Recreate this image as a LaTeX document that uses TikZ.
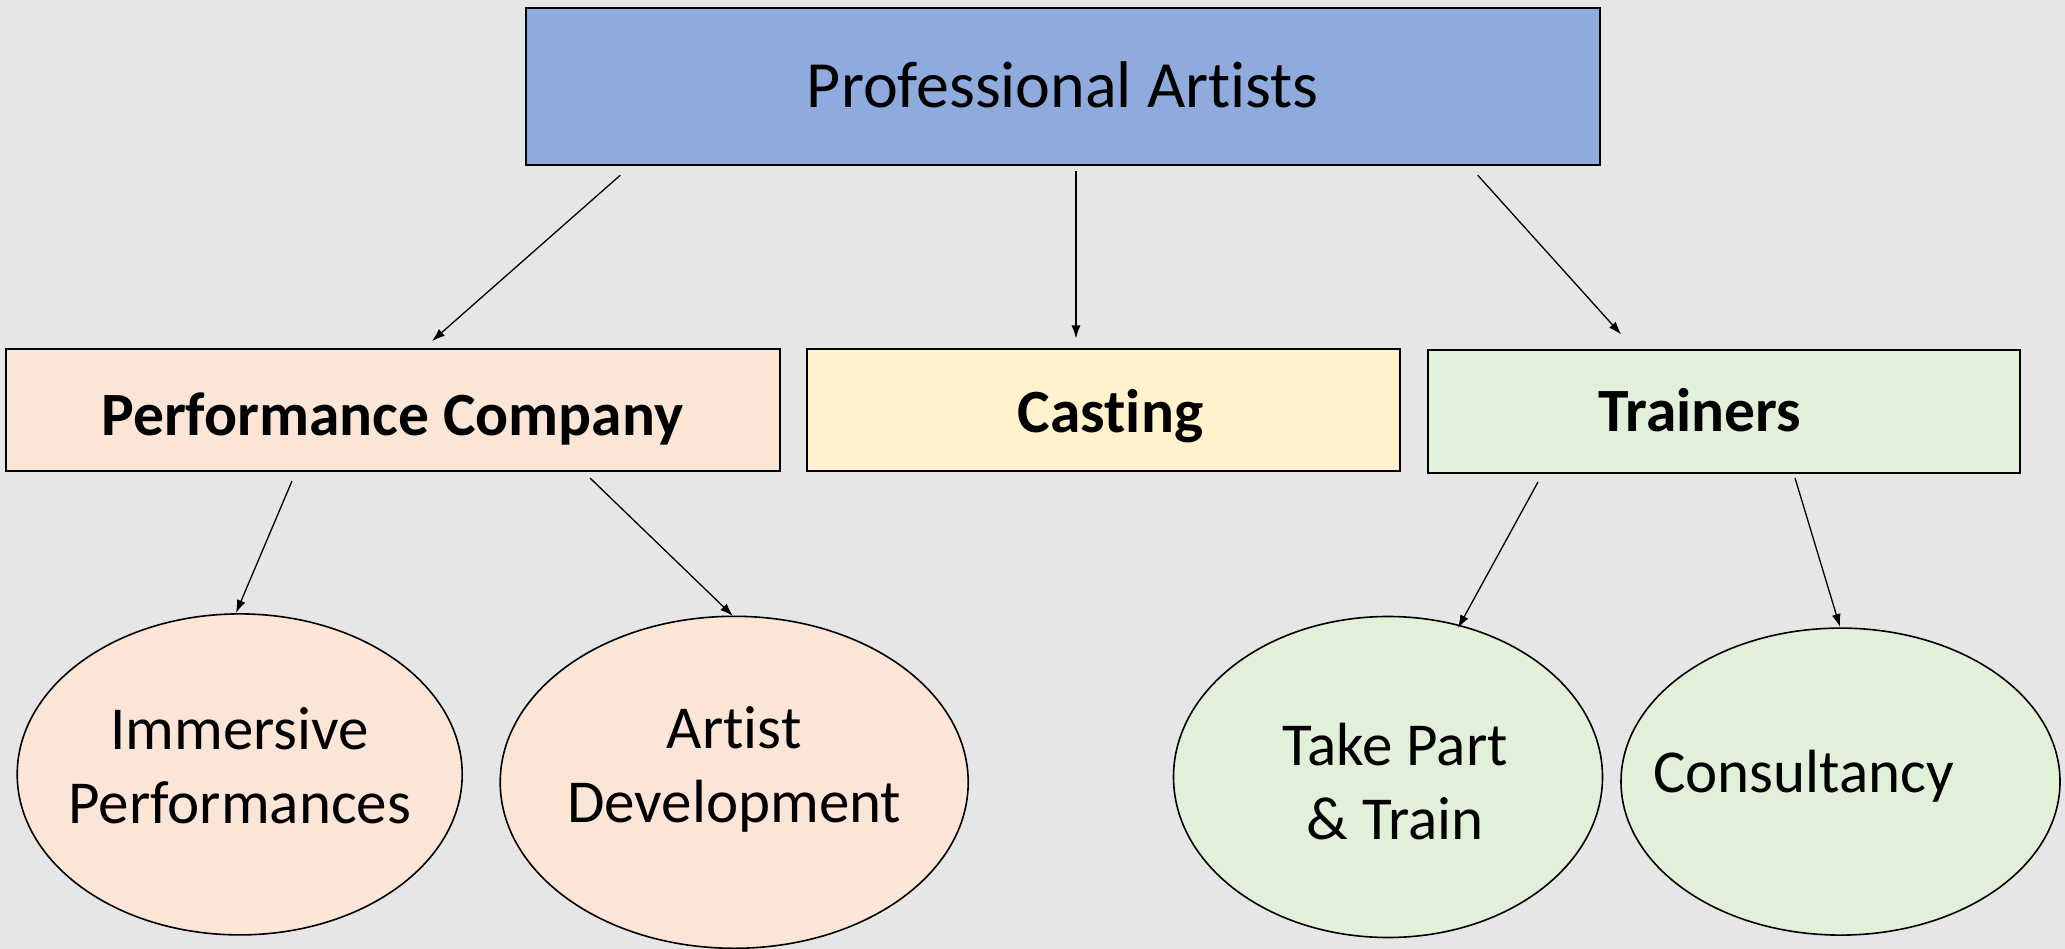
\documentclass[tikz,border=0pt]{standalone}
\usepackage{fontspec}
\setmainfont{Carlito}[Ligatures={NoCommon}]
\usetikzlibrary{arrows.meta,shapes.geometric}
\definecolor{bgc}{HTML}{E7E6E6}
\definecolor{topc}{HTML}{8FAADC}
\definecolor{peach}{HTML}{FBE5D6}
\definecolor{yel}{HTML}{FFF2CC}
\definecolor{grn}{HTML}{E2F0D9}
\tikzset{
  box/.style={draw=black, line width=2pt, rectangle, inner sep=0pt, text depth=0pt},
  bigtxt/.style={font=\fontsize{66}{79}\selectfont, text height=42.5pt},
  boldtxt/.style={font=\fontsize{61.5}{74}\selectfont\bfseries, text height=39.6pt},
  oval/.style={draw=black, line width=1.6pt, ellipse, inner sep=0pt},
  ovaltxt/.style={font=\fontsize{61}{74}\selectfont, align=center, text height=113.3pt, text depth=0pt, inner sep=0pt},
  ovaltxtone/.style={font=\fontsize{61}{74}\selectfont, align=center, text height=39.3pt, text depth=0pt, inner sep=0pt},
  conn/.style={line width=1.3pt, -{Latex[length=13pt,width=9pt]}}
}
\begin{document}
\begin{tikzpicture}[x=1pt,y=-1pt]
\fill[bgc] (0,0) rectangle (2065,949);
\useasboundingbox (0,0) rectangle (2065,949);
% boxes
\node[box, fill=topc, bigtxt, minimum width=1074pt, minimum height=157pt] (top) at (1062.75,86.25) {Professional Artists};
\node[box, fill=peach, boldtxt, minimum width=774pt, minimum height=122pt] (perf) at (392.5,410.25) {\raisebox{-5pt}{Performance Company}};
\node[box, fill=yel, boldtxt, minimum width=593pt, minimum height=122pt] (cast) at (1103.5,410.25) {\hspace*{14pt}\raisebox{-2pt}{Casting}};
\node[box, fill=grn, boldtxt, minimum width=592pt, minimum height=123pt] (train) at (1723.8,411.5) {\hspace*{-48pt}Trainers};
% ellipses
\node[oval, fill=peach, minimum width=445pt, minimum height=321pt,
  label={[ovaltxt, yshift=8pt]center:Immersive\\Performances}] (imm) at (239.7,774.4) {};
\node[oval, fill=peach, minimum width=468pt, minimum height=332pt,
  label={[ovaltxt, yshift=16pt]center:Artist\\Development}] (art) at (734.2,782.3) {};
\node[oval, fill=grn, minimum width=429pt, minimum height=321pt,
  label={[ovaltxt, xshift=7pt, yshift=-6pt]center:Take Part\\\& Train}] (take) at (1388,777) {};
\node[oval, fill=grn, minimum width=439pt, minimum height=307pt,
  label={[ovaltxtone, xshift=-37pt, yshift=9pt]center:Consultancy}] (cons) at (1840.5,781.6) {};
% connector end points
\coordinate (s1) at (620.3,175.2);  \coordinate (e1) at (432,341.1);
\coordinate (s2) at (1076,171.2);   \coordinate (e2) at (1076,338.5);
\coordinate (s3) at (1477.7,175.2); \coordinate (e3) at (1621.2,334.5);
\coordinate (s4) at (292,481);      \coordinate (e4) at (236,613);
\coordinate (s5) at (590,478);      \coordinate (e5) at (733,616);
\coordinate (s6) at (1538,482);     \coordinate (e6) at (1458,628);
\coordinate (s7) at (1795,478);     \coordinate (e7) at (1840,627);
\draw[conn] (s1) -- (e1);
\draw[conn] (s2) -- (e2);
\draw[conn] (s3) -- (e3);
\draw[conn] (s4) -- (e4);
\draw[conn] (s5) -- (e5);
\draw[conn] (s6) -- (e6);
\draw[conn] (s7) -- (e7);
\end{tikzpicture}
\end{document}
